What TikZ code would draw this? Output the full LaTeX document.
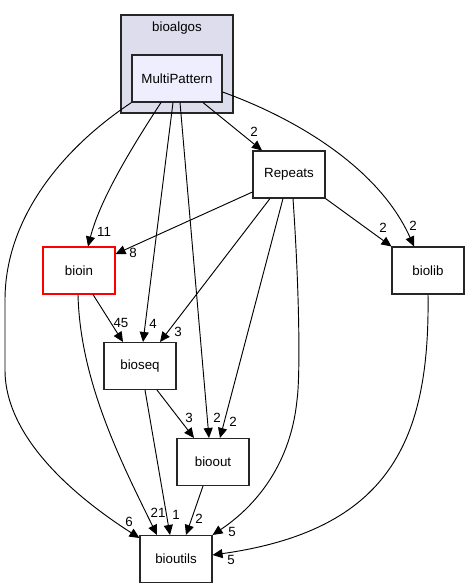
\documentclass[tikz,border=0pt]{standalone}
\usepackage{fontspec}
\setmainfont{Liberation Sans}
\usetikzlibrary{arrows.meta}
\definecolor{clfill}{HTML}{DDDDEE}
\definecolor{mpfill}{HTML}{EEEEFF}
\tikzset{
  box/.style={draw=black!85, line width=0.8pt, fill=white, minimum width=54pt, minimum height=35.25pt, inner sep=0pt, font=\fontsize{10}{12}\selectfont},
  e/.style={line width=0.7pt, -{Triangle[length=7.5pt,width=6.8pt]}},
  l/.style={font=\fontsize{10}{12}\selectfont, inner sep=0pt},
}
\begin{document}
\begin{tikzpicture}[x=0.75pt,y=-0.75pt]
\useasboundingbox (0,0) rectangle (469,588);
% cluster
\node[draw=black!85, line width=0.8pt, fill=clfill, minimum width=84pt, minimum height=73.5pt, inner sep=0pt] (cl) at (177,64) {};
\node[l] (cllbl) at (177,28) {bioalgos};
% nodes
\node[box, fill=mpfill, minimum width=67.5pt] (mp) at (177,78.5) {MultiPattern};
\node[box] (rp) at (289,174.5) {Repeats};
\node[box] (bl) at (428,270.5) {biolib};
\node[box, draw=red] (bi) at (79,270.5) {bioin};
\node[box] (bs) at (140,366) {bioseq};
\node[box] (bo) at (213,462) {bioout};
\node[box] (bu) at (176,559) {bioutils};
% edges
\draw[e] (mp.south west) .. controls (60,150) and (5,220) .. (5,300) -- (5,370) .. controls (5,440) and (80,500) .. (bu.west |- 0,538) node[l] at (129,522) {6};
\draw[e] (mp.south -| 161,0) .. controls (130,150) and (100,200) .. (bi.north -| 88,0) node[l] at (104,232) {11};
\draw[e] (mp.south -| 173,0) -- (bs.north -| 143,0) node[l] at (153,324) {4};
\draw[e] (mp.south -| 180,0) -- (bo.north -| 209,0) node[l] at (217,418) {2};
\draw[e] (mp.south -| 203,0) -- (rp.north -| 262,0) node[l] at (254,132) {2};
\draw[e] (mp.east |- 0,92) .. controls (300,120) and (380,170) .. (bl.north -| 414,0) node[l] at (413,226) {2};
\draw[e] (rp.west |- 0,192) -- (bi.east |- 0,254) node[l] at (133,253) {8};
\draw[e] (rp.south -| 270,0) -- (bs.north -| 160,0) node[l] at (178,332) {3};
\draw[e] (rp.south -| 283,0) -- (bo.north -| 220,0) node[l] at (233,422) {2};
\draw[e] (rp.south -| 293,0) .. controls (300,300) and (300,380) .. (297,400) .. controls (290,470) and (250,510) .. (bu.north east) node[l] at (232,532) {5};
\draw[e] (rp.south east) -- (bl.north west) node[l] at (383,228) {2};
\draw[e] (bi.south -| 93,0) -- (bs.north -| 123,0) node[l] at (121,323) {45};
\draw[e] (bi.south -| 78,0) .. controls (80,380) and (120,460) .. (bu.north -| 157,0) node[l] at (158,513) {21};
\draw[e] (bs.south -| 145,0) -- (bu.north -| 170,0) node[l] at (176,515) {1};
\draw[e] (bs.south -| 157,0) -- (bo.north -| 194,0) node[l] at (189,418) {3};
\draw[e] (bo.south -| 203,0) -- (bu.north -| 186,0) node[l] at (199,519) {2};
\draw[e] (bl.south -| 428,0) .. controls (430,440) and (390,530) .. (bu.east |- 0,555) node[l] at (231,560) {5};
\end{tikzpicture}
\end{document}
